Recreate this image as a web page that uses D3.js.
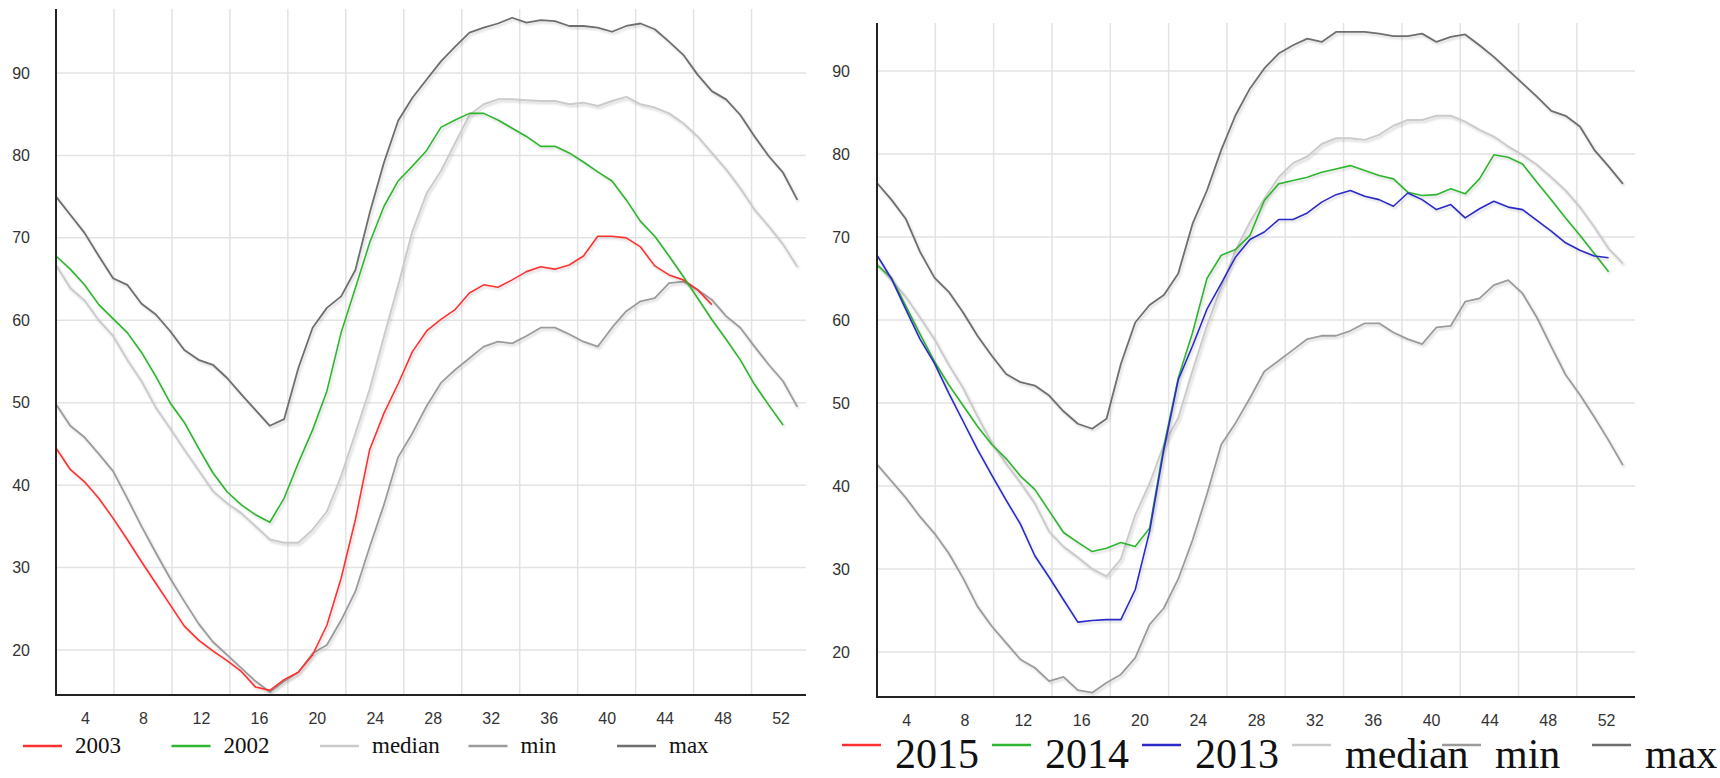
<!DOCTYPE html>
<html>
<head>
<meta charset="utf-8">
<script src="https://cdn.jsdelivr.net/npm/d3@7"></script>
<style>
  html, body { margin: 0; padding: 0; background: #fff; }
  svg { display: block; }
  .tick text { font-family: "Liberation Sans", Arial, sans-serif; font-size: 16px; fill: #333; }
  .legend text { font-family: "Liberation Serif", "Times New Roman", serif; fill: #111; }
</style>
</head>
<body>
<script>
// tick labels (week numbers on x, values on y)
var weekTicks = [4, 8, 12, 16, 20, 24, 28, 32, 36, 40, 44, 48, 52];
var gridWeeks = [2, 6, 10, 14, 18, 22, 26, 30, 34, 38, 42, 46, 50];
var valueTicks = [20, 30, 40, 50, 60, 70, 80, 90];

// left chart: 53 points per envelope series, years shorter
var leftMax = [75.0, 72.8, 70.6, 67.8, 65.1, 64.3, 62.0, 60.7, 58.7, 56.4, 55.2, 54.6, 53.0, 51.0, 49.1, 47.2, 48.0, 54.2, 59.1, 61.5,
  62.9, 66.1, 73.0, 79.1, 84.2, 87.0, 89.2, 91.4, 93.2, 94.9, 95.5, 96.0, 96.7, 96.1, 96.4, 96.3, 95.7, 95.7, 95.5, 95.0,
  95.7, 96.0, 95.3, 93.8, 92.2, 89.8, 87.8, 86.8, 84.9, 82.3, 79.9, 77.9, 74.6];
var leftMedian = [66.7, 63.9, 62.4, 60.0, 58.1, 55.2, 52.6, 49.4, 46.9, 44.3, 41.8, 39.3, 37.8, 36.6, 35.0, 33.4, 33.0, 33.0, 34.6, 36.8,
  41.1, 46.3, 51.6, 58.0, 64.2, 70.8, 75.4, 78.1, 81.5, 84.9, 86.2, 86.8, 86.8, 86.7, 86.6, 86.6, 86.2, 86.4, 86.0, 86.6,
  87.1, 86.2, 85.8, 85.1, 83.9, 82.3, 80.3, 78.3, 76.0, 73.4, 71.4, 69.2, 66.5];
var leftMin = [49.8, 47.2, 45.8, 43.8, 41.7, 38.4, 35.0, 31.8, 28.7, 25.9, 23.2, 21.0, 19.4, 17.8, 16.2, 14.9, 16.2, 17.3, 19.6, 20.6,
  23.6, 27.1, 32.5, 37.6, 43.4, 46.3, 49.6, 52.4, 54.0, 55.4, 56.8, 57.4, 57.2, 58.1, 59.1, 59.1, 58.3, 57.4, 56.8, 59.1,
  61.1, 62.3, 62.7, 64.5, 64.7, 63.7, 62.5, 60.5, 59.1, 56.8, 54.6, 52.6, 49.5];
var y2003 = [44.5, 41.9, 40.4, 38.4, 36.0, 33.4, 30.7, 28.1, 25.5, 22.9, 21.2, 19.9, 18.7, 17.4, 15.5, 15.1, 16.4, 17.3, 19.4, 23.0,
  28.7, 35.8, 44.3, 48.7, 52.3, 56.2, 58.7, 60.1, 61.3, 63.3, 64.3, 64.0, 64.9, 65.9, 66.5, 66.2, 66.7, 67.8, 70.2, 70.2,
  70.0, 68.9, 66.6, 65.5, 64.9, 63.7, 61.9];
var y2002 = [67.8, 66.2, 64.3, 61.9, 60.2, 58.5, 56.1, 53.2, 50.0, 47.6, 44.5, 41.5, 39.2, 37.6, 36.4, 35.5, 38.4, 42.7, 46.7, 51.4,
  58.5, 63.9, 69.4, 73.8, 76.9, 78.7, 80.6, 83.4, 84.3, 85.1, 85.1, 84.3, 83.3, 82.3, 81.1, 81.1, 80.3, 79.2, 78.0, 76.9,
  74.6, 72.0, 70.2, 67.8, 65.3, 62.7, 60.1, 57.7, 55.2, 52.2, 49.7, 47.3];

// right chart
var rightMax = [76.5, 74.5, 72.2, 68.2, 65.1, 63.4, 60.9, 58.1, 55.7, 53.5, 52.5, 52.1, 50.9, 49.0, 47.5, 46.9, 48.1, 54.7, 59.7, 61.8,
  63.0, 65.6, 71.6, 75.6, 80.5, 84.7, 87.9, 90.3, 92.1, 93.1, 93.9, 93.5, 94.7, 94.7, 94.7, 94.5, 94.2, 94.2, 94.5, 93.5,
  94.1, 94.4, 93.1, 91.7, 90.1, 88.5, 86.9, 85.2, 84.6, 83.3, 80.5, 78.5, 76.4];
var rightMedian = [66.8, 64.8, 62.8, 60.3, 57.7, 54.6, 51.8, 48.4, 45.2, 42.7, 40.4, 37.9, 34.5, 32.7, 31.4, 30.0, 29.1, 31.2, 36.5, 40.3,
  45.0, 48.2, 53.9, 59.3, 64.0, 68.4, 71.8, 74.6, 77.2, 78.9, 79.7, 81.2, 81.9, 81.9, 81.7, 82.3, 83.4, 84.1, 84.1, 84.6,
  84.6, 83.9, 82.9, 82.1, 80.9, 79.9, 78.7, 77.2, 75.6, 73.6, 71.2, 68.6, 66.8];
var rightMin = [42.6, 40.6, 38.6, 36.3, 34.3, 31.9, 28.9, 25.5, 23.1, 21.1, 19.1, 18.1, 16.5, 17.0, 15.4, 15.1, 16.3, 17.3, 19.3, 23.3,
  25.3, 28.8, 33.5, 39.0, 45.0, 47.6, 50.6, 53.8, 55.1, 56.4, 57.7, 58.1, 58.1, 58.7, 59.6, 59.6, 58.5, 57.7, 57.1, 59.1,
  59.3, 62.2, 62.6, 64.2, 64.8, 63.2, 60.3, 56.8, 53.4, 51.0, 48.3, 45.5, 42.5];
var y2015 = [];
var y2014 = [66.6, 65.1, 61.7, 58.3, 55.0, 52.2, 49.7, 47.2, 45.0, 43.3, 41.2, 39.6, 37.0, 34.4, 33.2, 32.1, 32.5, 33.2, 32.7, 34.9,
  44.8, 53.0, 58.5, 65.0, 67.8, 68.5, 70.2, 74.4, 76.4, 76.8, 77.2, 77.8, 78.2, 78.6, 78.0, 77.4, 77.0, 75.4, 75.0, 75.1,
  75.8, 75.2, 77.0, 79.9, 79.6, 78.8, 76.6, 74.5, 72.3, 70.2, 68.0, 65.8];
var y2013 = [67.8, 65.0, 61.3, 57.7, 54.8, 51.2, 47.8, 44.4, 41.3, 38.3, 35.4, 31.6, 29.0, 26.3, 23.6, 23.8, 23.9, 23.9, 27.5, 34.5,
  44.4, 52.8, 56.9, 61.3, 64.4, 67.6, 69.7, 70.6, 72.1, 72.1, 72.9, 74.2, 75.1, 75.6, 74.9, 74.5, 73.7, 75.3, 74.5, 73.3,
  73.9, 72.3, 73.4, 74.3, 73.6, 73.3, 72.0, 70.7, 69.3, 68.4, 67.7, 67.5];

var leftLabels = ["2003", "2002", "median", "min", "max"];
var rightLabels = ["2015", "2014", "2013", "median", "min", "max"];

var colors = {median: "#cbcbcb", min: "#9b9b9b", max: "#6e6e6e",
  red: "#ff3030", green: "#2fb52f", blue: "#2b2bc8"};

var width = 1720, height = 778;

var svg = d3.select("body").append("svg")
  .attr("width", width)
  .attr("height", height);

// soft shadow under every line, like the original
svg.append("defs").append("filter")
    .attr("id", "shadow")
    .attr("x", "-5%").attr("y", "-10%")
    .attr("width", "110%").attr("height", "125%")
  .append("feDropShadow")
    .attr("dx", 1.5).attr("dy", 2)
    .attr("stdDeviation", 1.1)
    .attr("flood-color", "#000")
    .attr("flood-opacity", 0.16);

// points are spread over the year (53 per 365 days), axis counts weeks
function dayOfPoint(i) { return i * 365 / 53; }
function dayOfWeek(w) { return (w - 2) * 7; }

function drawChart(o) {
  var x = d3.scaleLinear().domain([0, o.dayEnd]).range([o.left, o.right]);
  var y = d3.scaleLinear().domain(o.yDomain).range([o.bottom, o.top]);
  var g = svg.append("g");

  // grid
  g.append("g").selectAll("line")
    .data(valueTicks).enter().append("line")
      .attr("x1", o.left).attr("x2", o.right)
      .attr("y1", function(d) { return y(d); })
      .attr("y2", function(d) { return y(d); })
      .attr("stroke", "#e3e3e3").attr("stroke-width", 1.5);
  g.append("g").selectAll("line")
    .data(gridWeeks).enter().append("line")
      .attr("y1", o.top).attr("y2", o.bottom)
      .attr("x1", function(d) { return x(dayOfWeek(d)); })
      .attr("x2", function(d) { return x(dayOfWeek(d)); })
      .attr("stroke", "#e3e3e3").attr("stroke-width", 1.5);

  // axes (labels only, lines drawn by hand)
  var xAxis = d3.axisBottom(x)
    .tickValues(weekTicks.map(dayOfWeek))
    .tickFormat(function(d, i) { return weekTicks[i]; })
    .tickSize(0).tickPadding(o.xPad);
  g.append("g").attr("transform", "translate(0," + o.bottom + ")")
    .call(xAxis).call(function(a) { a.select(".domain").remove(); });

  var yAxis = d3.axisLeft(y).tickValues(valueTicks).tickSize(0).tickPadding(o.yPad);
  g.append("g").attr("transform", "translate(" + o.left + ",0)")
    .call(yAxis).call(function(a) { a.select(".domain").remove(); });

  var line = d3.line()
    .x(function(d, i) { return x(dayOfPoint(i)); })
    .y(function(d) { return y(d); });

  o.series.forEach(function(s) {
    if (!s.values.length) return;
    g.append("path")
      .datum(s.values)
      .attr("d", line)
      .attr("fill", "none")
      .attr("stroke", s.color)
      .attr("stroke-width", s.width)
      .attr("stroke-linejoin", "round")
      .attr("filter", "url(#shadow)");
  });

  // axis lines
  g.append("line").attr("x1", o.left).attr("x2", o.left)
    .attr("y1", o.top).attr("y2", o.bottom + 1)
    .attr("stroke", "#222").attr("stroke-width", 2);
  g.append("line").attr("x1", o.left).attr("x2", o.right)
    .attr("y1", o.bottom).attr("y2", o.bottom)
    .attr("stroke", "#222").attr("stroke-width", 2);

  // legend
  var leg = svg.append("g").attr("class", "legend")
    .selectAll("g").data(o.legend).enter().append("g")
      .attr("transform", function(d, i) {
        return "translate(" + (o.legX + i * o.legStep) + ",0)";
      });
  leg.append("line")
    .attr("x1", 0).attr("x2", 39)
    .attr("y1", o.legLineY).attr("y2", o.legLineY)
    .attr("stroke", function(d) { return d.color; })
    .attr("stroke-width", 2.5);
  leg.append("text")
    .attr("x", o.legTextDx).attr("y", o.legBase)
    .style("font-size", o.legFont + "px")
    .text(function(d) { return d.label; });
}

var leftColors = [colors.red, colors.green, colors.median, colors.min, colors.max];
var rightColors = [colors.red, colors.green, colors.blue, colors.median, colors.min, colors.max];

drawChart({
  left: 56, right: 806, top: 9, bottom: 695,
  dayEnd: 362.3, yDomain: [14.54, 97.76],
  xPad: 18, yPad: 26,
  series: [
    {values: leftMedian, color: colors.median, width: 2},
    {values: leftMin, color: colors.min, width: 1.8},
    {values: leftMax, color: colors.max, width: 1.8},
    {values: y2003, color: colors.red, width: 1.6},
    {values: y2002, color: colors.green, width: 1.6}
  ],
  legend: leftLabels.map(function(l, i) { return {label: l, color: leftColors[i]}; }),
  legX: 23, legStep: 148.5, legLineY: 746, legTextDx: 52, legBase: 753, legFont: 23
});

drawChart({
  left: 877, right: 1635, top: 23, bottom: 697,
  dayEnd: 363.9, yDomain: [14.58, 95.78],
  xPad: 18, yPad: 27,
  series: [
    {values: rightMedian, color: colors.median, width: 2},
    {values: rightMin, color: colors.min, width: 1.8},
    {values: rightMax, color: colors.max, width: 1.8},
    {values: y2015, color: colors.red, width: 1.6},
    {values: y2014, color: colors.green, width: 1.6},
    {values: y2013, color: colors.blue, width: 1.6}
  ],
  legend: rightLabels.map(function(l, i) { return {label: l, color: rightColors[i]}; }),
  legX: 842, legStep: 150, legLineY: 745, legTextDx: 53, legBase: 768, legFont: 42
});
</script>
</body>
</html>
